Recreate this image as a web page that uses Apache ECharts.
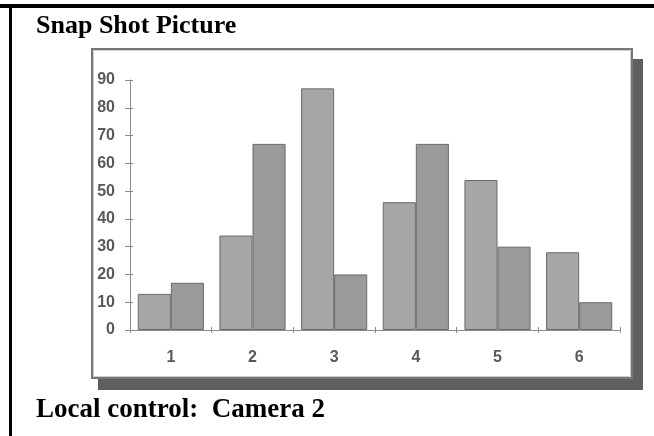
<!DOCTYPE html>
<html>
<head>
<meta charset="utf-8">
<script src="https://cdn.jsdelivr.net/npm/echarts@6/dist/echarts.min.js"></script>
<style>
html,body{margin:0;padding:0;background:#fff;}
#main{width:654px;height:436px;}
</style>
</head>
<body>
<div id="main"></div>
<script>
var categories = ['1', '2', '3', '4', '5', '6'];
var seriesA = [13, 34, 87, 46, 54, 28];
var seriesB = [17, 67, 20, 67, 30, 10];
var yMin = 0, yMax = 90, yStep = 10;
var titleText = 'Snap Shot Picture';
var footerText = 'Local control:  Camera 2';

var chart = echarts.init(document.getElementById('main'), null, {renderer: 'canvas'});
var labelFont = '"Liberation Sans", Arial, sans-serif';
var axisColor = '#8c8c8c';
var option = {
  animation: false,
  backgroundColor: '#ffffff',
  graphic: [
    {type: 'rect', z: -10, shape: {x: 98, y: 59, width: 545, height: 331}, style: {fill: '#5f5f5f'}},
    {type: 'rect', z: -9, shape: {x: 92, y: 49, width: 540, height: 329}, style: {fill: '#ffffff', stroke: '#777777', lineWidth: 2}},
    {type: 'rect', z: -8, shape: {x: 93.5, y: 50.5, width: 537, height: 326}, style: {fill: 'none', stroke: '#cfcfcf', lineWidth: 1}},
    {type: 'rect', z: -5, shape: {x: 0, y: 4, width: 654, height: 4}, style: {fill: '#000000'}},
    {type: 'rect', z: -5, shape: {x: 9, y: 4, width: 3, height: 432}, style: {fill: '#000000'}},
    {type: 'text', x: 36, y: 26, style: {text: titleText, font: 'bold 26px "Liberation Serif", "Times New Roman", serif', fill: '#000', textVerticalAlign: 'middle'}},
    {type: 'text', x: 36, y: 410, style: {text: footerText, font: 'bold 27px "Liberation Serif", "Times New Roman", serif', fill: '#000', textVerticalAlign: 'middle'}}
  ],
  grid: {left: 130, right: 34, top: 80, bottom: 106, containLabel: false},
  xAxis: [
    {type: 'category', data: categories, boundaryGap: true,
     axisLine: {lineStyle: {color: axisColor, width: 1}},
     axisTick: {show: true, inside: false, length: 3, lineStyle: {color: axisColor}},
     axisLabel: {color: '#595959', fontFamily: labelFont, fontWeight: 'bold', fontSize: 16, margin: 20}},
    {type: 'category', data: categories, boundaryGap: true, position: 'bottom',
     axisLine: {show: false},
     axisTick: {show: true, inside: true, length: 3, lineStyle: {color: axisColor}},
     axisLabel: {show: false}}
  ],
  yAxis: [
    {type: 'value', min: yMin, max: yMax, interval: yStep,
     splitLine: {show: false},
     axisLine: {show: true, lineStyle: {color: axisColor, width: 1}},
     axisTick: {show: true, inside: false, length: 5, lineStyle: {color: axisColor}},
     axisLabel: {color: '#595959', fontFamily: labelFont, fontWeight: 'bold', fontSize: 16, margin: 15}},
    {type: 'value', min: yMin, max: yMax, interval: yStep, position: 'left',
     splitLine: {show: false},
     axisLine: {show: false},
     axisTick: {show: true, inside: true, length: 3, lineStyle: {color: axisColor}},
     axisLabel: {show: false}}
  ],
  series: [
    {type: 'bar', data: seriesA, xAxisIndex: 0, yAxisIndex: 0, barGap: '0%', barCategoryGap: '19%',
     itemStyle: {color: '#a6a6a6', borderColor: '#6a6a6a', borderWidth: 1}},
    {type: 'bar', data: seriesB, xAxisIndex: 0, yAxisIndex: 0, barGap: '0%', barCategoryGap: '19%',
     itemStyle: {color: '#9a9a9a', borderColor: '#6a6a6a', borderWidth: 1}}
  ]
};
chart.setOption(option);
</script>
</body>
</html>
